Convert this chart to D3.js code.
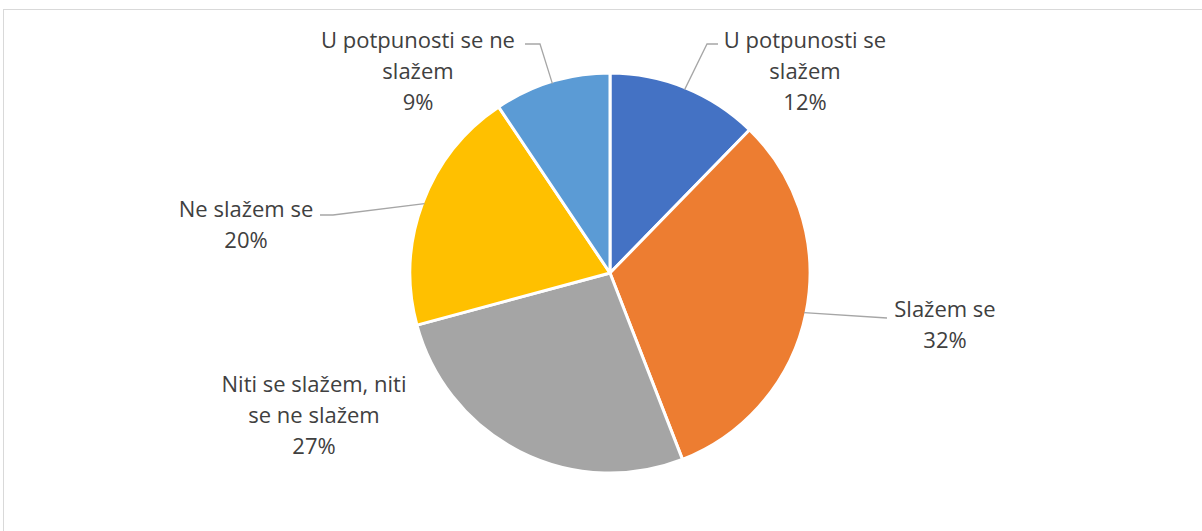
<!DOCTYPE html>
<html>
<head>
<meta charset="utf-8">
<script src="https://cdn.jsdelivr.net/npm/d3@7"></script>
<style>
  body { margin: 0; background: #fff; }
  #chart text { font-family: "Open Sans", "Noto Sans", sans-serif; font-size: 22px; fill: #404040; }
</style>
</head>
<body>
<div id="chart"></div>
<script>
// answer categories, in drawing order (clockwise from 12 o'clock)
var categories = ["U potpunosti se slažem", "Slažem se", "Niti se slažem, niti se ne slažem", "Ne slažem se", "U potpunosti se ne slažem"];
var values = [12.3, 31.8, 26.7, 19.8, 9.4];
var labelLines = [["U potpunosti se", "slažem"], ["Slažem se"], ["Niti se slažem, niti", "se ne slažem"], ["Ne slažem se"], ["U potpunosti se ne", "slažem"]];
var colors = ["#4472C4", "#ED7D31", "#A5A5A5", "#FFC000", "#5B9BD5"];

var width = 1202, height = 531,
    cx = 610, cy = 273, radius = 200,
    lineH = 31;

// label anchor (centre of text block, top line baseline) relative to pie centre
var labelPos = [
  { x: 195, y: -225, leader: [[707, 44], [718, 44]] },
  { x: 335, y: 44, leader: [[887, 318]] },
  { x: -296, y: 119, leader: null },
  { x: -364, y: -56, leader: [[333, 215], [320, 215]] },
  { x: -192, y: -225, leader: [[540, 44], [525, 44]] }
];

var svg = d3.select("#chart").append("svg")
    .attr("width", width)
    .attr("height", height);

// chart frame
svg.append("rect")
    .attr("x", 3.5).attr("y", 9.5)
    .attr("width", width + 10).attr("height", height + 10)
    .style("fill", "none")
    .style("stroke", "#D9D9D9");

var data = categories.map(function(c, i) {
  return { name: c, value: values[i], lines: labelLines[i], color: colors[i], pos: labelPos[i] };
});

var pie = d3.pie().sort(null).value(function(d) { return d.value; });
var arc = d3.arc().innerRadius(0).outerRadius(radius);
var arcs = pie(data);

var g = svg.append("g")
    .attr("transform", "translate(" + cx + "," + cy + ")");

g.selectAll(".slice")
    .data(arcs)
    .enter().append("path")
      .attr("class", "slice")
      .attr("d", arc)
      .style("fill", function(d) { return d.data.color; })
      .style("stroke", "#fff")
      .style("stroke-width", 3)
      .style("stroke-linejoin", "round");

var total = d3.sum(values);

// leader lines: start on the arc at the slice centroid direction, end next to label
var outer = d3.arc().innerRadius(radius - 2).outerRadius(radius - 2);
g.selectAll(".leader")
    .data(arcs.filter(function(d) { return d.data.pos.leader; }))
    .enter().append("polyline")
      .attr("class", "leader")
      .attr("points", function(d) {
        var c = outer.centroid(d);
        var pts = [c].concat(d.data.pos.leader.map(function(p) { return [p[0] - cx, p[1] - cy]; }));
        return pts.map(function(p) { return p.join(","); }).join(" ");
      })
      .style("fill", "none")
      .style("stroke", "#A6A6A6")
      .style("stroke-width", 1.3);

var labels = g.selectAll(".label")
    .data(arcs)
    .enter().append("text")
      .attr("class", "label")
      .attr("text-anchor", "middle")
      .attr("transform", function(d) { return "translate(" + d.data.pos.x + "," + d.data.pos.y + ")"; });

labels.each(function(d) {
  var t = d3.select(this);
  var lines = d.data.lines.concat([Math.round(d.data.value / total * 100) + "%"]);
  lines.forEach(function(l, i) {
    t.append("tspan").attr("x", 0).attr("y", i * lineH).text(l);
  });
});
</script>
</body>
</html>
